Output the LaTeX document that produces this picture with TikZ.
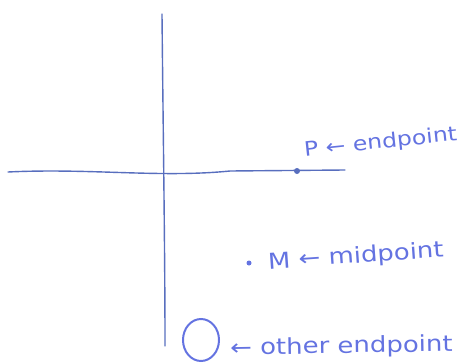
\documentclass[tikz,border=0pt]{standalone}
\usepackage{fontspec}
\setmainfont{DejaVu Sans}
\newfontfamily\inkfont[FakeStretch=1.18]{DejaVu Sans}
\usetikzlibrary{positioning}
\definecolor{penline}{RGB}{88,110,190}
\definecolor{penink}{RGB}{100,115,225}

\begin{document}
\begin{tikzpicture}[
  x=1pt,y=-1pt,
  axis/.style={penline,line width=1.4pt,line cap=round},
  dotmark/.style={circle,fill=penline,inner sep=0pt,minimum size=6pt},
  lbl/.style={penink,font=\inkfont\fontsize{22}{24}\selectfont,anchor=west,inner sep=0pt}
]
\useasboundingbox (0,0) rectangle (461,364);
\coordinate (vtop) at (162,14);
\coordinate (vbot) at (165,346);
\coordinate (hleft) at (8,172);
\coordinate (hright) at (345,170);
\draw[axis] (vtop) .. controls (163,120) and (165,250) .. (vbot);
\draw[axis] (hleft) .. controls (90,168) and (160,178) .. (230,171) -- (hright);
\node[dotmark] (ptP) at (297,171) {};
\node[dotmark,minimum size=5pt,fill=penink] (ptM) at (249,263) {};
\draw[penink,line width=2pt] (201,340) ellipse (18 and 21);
\node[lbl,rotate=6,font=\inkfont\fontsize{20}{22}\selectfont] (labP) at (304,151) {P ← endpoint};
\node[lbl,rotate=4] (labM) at (268,263) {M ← midpoint};
\node[lbl,rotate=1] (labO) at (230,349) {← other endpoint};
\end{tikzpicture}
\end{document}
